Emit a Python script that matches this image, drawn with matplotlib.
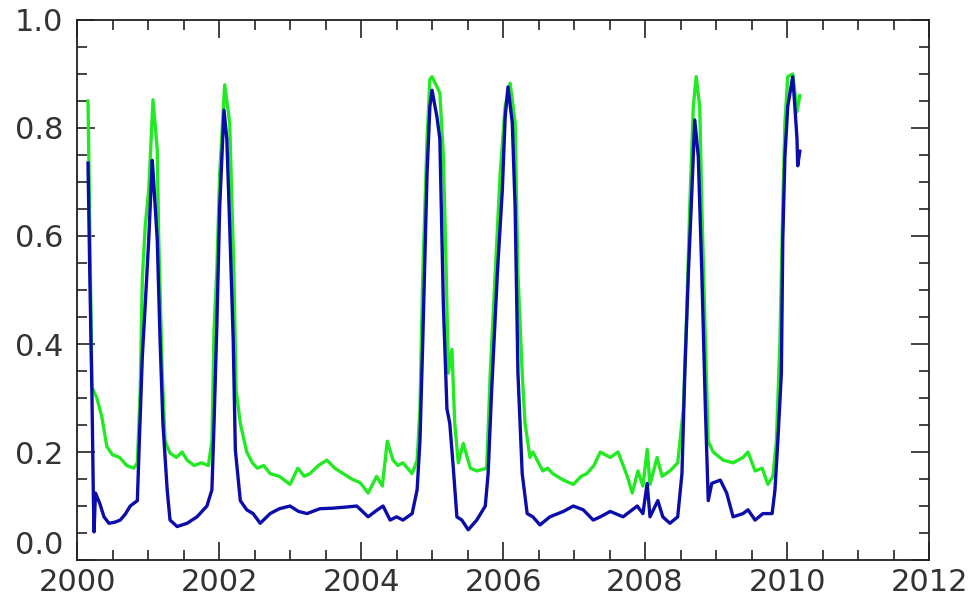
import numpy as np
import matplotlib
matplotlib.use('Agg')
import matplotlib.pyplot as plt
import matplotlib.transforms as mtransforms
from matplotlib.ticker import MultipleLocator

# green series
green_x = [2000.155, 2000.18, 2000.21, 2000.28, 2000.35, 2000.42, 2000.5, 2000.6, 2000.7, 2000.8,
           2000.85, 2000.89, 2000.92, 2000.96, 2001.01, 2001.07, 2001.13, 2001.15, 2001.2, 2001.24,
           2001.31, 2001.4, 2001.48, 2001.55, 2001.65, 2001.75, 2001.85, 2001.9, 2001.93, 2001.97,
           2002.01, 2002.08, 2002.15, 2002.21, 2002.24, 2002.3, 2002.39, 2002.47, 2002.54, 2002.63,
           2002.72, 2002.85, 2003.0, 2003.11, 2003.2, 2003.28, 2003.4, 2003.52, 2003.63, 2003.75,
           2003.87, 2003.99, 2004.1, 2004.22, 2004.3, 2004.37, 2004.45, 2004.52, 2004.59, 2004.72,
           2004.79, 2004.83, 2004.87, 2004.93, 2004.97, 2005.0, 2005.11, 2005.16, 2005.2, 2005.23,
           2005.28, 2005.32, 2005.37, 2005.44, 2005.54, 2005.63, 2005.77, 2005.82, 2005.89, 2005.96,
           2006.03, 2006.1, 2006.17, 2006.21, 2006.27, 2006.31, 2006.38, 2006.42, 2006.5, 2006.56,
           2006.63, 2006.7, 2006.85, 2006.99, 2007.1, 2007.18, 2007.28, 2007.37, 2007.51, 2007.62,
           2007.75, 2007.82, 2007.9, 2007.97, 2008.03, 2008.07, 2008.17, 2008.24, 2008.35, 2008.46,
           2008.54, 2008.59, 2008.63, 2008.68, 2008.72, 2008.77, 2008.8, 2008.85, 2008.89, 2008.96,
           2009.1, 2009.24, 2009.38, 2009.45, 2009.55, 2009.65, 2009.73, 2009.8, 2009.85, 2009.9,
           2009.94, 2009.97, 2010.01, 2010.08, 2010.14, 2010.18]
green_y = [0.85, 0.62, 0.32, 0.30, 0.265, 0.21, 0.195, 0.19, 0.175, 0.17,
           0.18, 0.315, 0.52, 0.617, 0.685, 0.852, 0.76, 0.6, 0.346, 0.22,
           0.198, 0.19, 0.2, 0.185, 0.175, 0.18, 0.175, 0.22, 0.426, 0.54,
           0.716, 0.88, 0.81, 0.53, 0.315, 0.253, 0.2, 0.18, 0.17, 0.175,
           0.16, 0.155, 0.14, 0.17, 0.155, 0.16, 0.175, 0.185, 0.17, 0.16,
           0.15, 0.143, 0.124, 0.155, 0.137, 0.22, 0.185, 0.175, 0.18, 0.16,
           0.185, 0.28, 0.53, 0.78, 0.89, 0.895, 0.865, 0.747, 0.53, 0.346,
           0.39, 0.253, 0.18, 0.216, 0.17, 0.165, 0.17, 0.346, 0.53, 0.716,
           0.84, 0.883, 0.81, 0.53, 0.346, 0.253, 0.19, 0.2, 0.18, 0.165,
           0.17, 0.16, 0.148, 0.14, 0.155, 0.16, 0.175, 0.2, 0.19, 0.2,
           0.155, 0.124, 0.165, 0.137, 0.205, 0.14, 0.19, 0.155, 0.165, 0.18,
           0.28, 0.47, 0.655, 0.84, 0.895, 0.84, 0.655, 0.407, 0.22, 0.2,
           0.185, 0.18, 0.19, 0.2, 0.165, 0.17, 0.14, 0.155, 0.22, 0.407,
           0.655, 0.81, 0.895, 0.9, 0.83, 0.86]

# blue series
blue_x = [2000.155, 2000.18, 2000.21, 2000.23, 2000.24, 2000.26, 2000.32, 2000.38, 2000.45, 2000.53,
          2000.61, 2000.68, 2000.75, 2000.85, 2000.87, 2000.92, 2000.96, 2001.01, 2001.06, 2001.08,
          2001.13, 2001.17, 2001.21, 2001.27, 2001.31, 2001.41, 2001.48, 2001.55, 2001.69, 2001.83,
          2001.9, 2001.93, 2001.97, 2002.01, 2002.07, 2002.11, 2002.15, 2002.2, 2002.23, 2002.3,
          2002.39, 2002.48, 2002.58, 2002.72, 2002.85, 2003.0, 2003.12, 2003.24, 2003.42, 2003.6,
          2003.78, 2003.94, 2004.1, 2004.22, 2004.31, 2004.41, 2004.5, 2004.59, 2004.72, 2004.79,
          2004.83, 2004.87, 2004.93, 2004.97, 2005.0, 2005.07, 2005.11, 2005.16, 2005.21, 2005.25,
          2005.3, 2005.35, 2005.42, 2005.51, 2005.63, 2005.75, 2005.79, 2005.84, 2005.92, 2005.99,
          2006.03, 2006.07, 2006.13, 2006.17, 2006.21, 2006.27, 2006.34, 2006.42, 2006.52, 2006.66,
          2006.85, 2006.99, 2007.13, 2007.27, 2007.37, 2007.51, 2007.69, 2007.89, 2007.97, 2008.03,
          2008.07, 2008.18, 2008.25, 2008.35, 2008.46, 2008.52, 2008.56, 2008.61, 2008.66, 2008.7,
          2008.75, 2008.8, 2008.85, 2008.89, 2008.94, 2009.06, 2009.15, 2009.24, 2009.38, 2009.45,
          2009.55, 2009.66, 2009.79, 2009.83, 2009.87, 2009.92, 2009.94, 2009.97, 2010.01, 2010.08,
          2010.11, 2010.14, 2010.15, 2010.18]
blue_y = [0.735, 0.53, 0.31, 0.12, 0.052, 0.124, 0.105, 0.08, 0.068, 0.07,
          0.074, 0.085, 0.1, 0.11, 0.19, 0.377, 0.47, 0.593, 0.74, 0.70,
          0.593, 0.407, 0.253, 0.13, 0.074, 0.062, 0.065, 0.068, 0.08, 0.1,
          0.13, 0.253, 0.438, 0.655, 0.833, 0.78, 0.62, 0.407, 0.204, 0.11,
          0.093, 0.086, 0.068, 0.086, 0.095, 0.1, 0.09, 0.086, 0.095, 0.096,
          0.098, 0.1, 0.08, 0.092, 0.1, 0.074, 0.08, 0.074, 0.086, 0.13,
          0.22, 0.407, 0.716, 0.84, 0.87, 0.82, 0.78, 0.47, 0.28, 0.253,
          0.17, 0.08, 0.074, 0.056, 0.074, 0.1, 0.16, 0.315, 0.53, 0.685,
          0.82, 0.876, 0.81, 0.655, 0.346, 0.16, 0.086, 0.08, 0.065, 0.08,
          0.09, 0.1, 0.093, 0.074, 0.08, 0.09, 0.08, 0.1, 0.086, 0.142,
          0.08, 0.11, 0.08, 0.068, 0.08, 0.16, 0.346, 0.53, 0.685, 0.815,
          0.747, 0.53, 0.28, 0.11, 0.142, 0.148, 0.124, 0.08, 0.086, 0.093,
          0.074, 0.086, 0.086, 0.13, 0.22, 0.346, 0.593, 0.747, 0.84, 0.895,
          0.84, 0.78, 0.73, 0.757]

fig = plt.figure(figsize=(9.76, 5.98), dpi=100)
ax = fig.add_axes([0.0789, 0.0635, 0.8730, 0.9031])

ax.plot(green_x, green_y, color='#22ea22', lw=2.4, solid_joinstyle='round')
ax.plot(blue_x, blue_y, color='#0c0caa', lw=2.4, solid_joinstyle='round')

ax.set_xlim(2000, 2012)
ax.set_ylim(0, 1.0)
ax.xaxis.set_major_locator(MultipleLocator(2))
ax.xaxis.set_minor_locator(MultipleLocator(0.5))
ax.yaxis.set_major_locator(MultipleLocator(0.2))
ax.yaxis.set_minor_locator(MultipleLocator(0.05))
# 0.0 is drawn separately below so it can sit above the axis line
ax.yaxis.set_major_formatter(plt.FuncFormatter(lambda v, p: '' if abs(v) < 1e-9 else '%.1f' % v))
ax.xaxis.set_major_formatter(plt.FuncFormatter(lambda v, p: '%d' % v))

ax.tick_params(which='both', direction='in', top=True, right=True, width=1.2, colors='#222222')
ax.tick_params(which='major', length=13)
ax.tick_params(which='minor', length=7)
ax.tick_params(axis='y', which='major', pad=10, labelsize=22, labelcolor='#333333')
ax.tick_params(axis='x', which='major', pad=6, labelsize=22, labelcolor='#333333')
for s in ax.spines.values():
    s.set_linewidth(1.3)
    s.set_color('#222222')

trans = mtransforms.blended_transform_factory(ax.transAxes, ax.transData)
trans = trans + mtransforms.ScaledTranslation(-10 / 72, 0, fig.dpi_scale_trans)
ax.text(0, 0.0, '0.0', transform=trans, ha='right', va='bottom', fontsize=22, color='#333333')

fig.savefig('out.png', dpi=100)
